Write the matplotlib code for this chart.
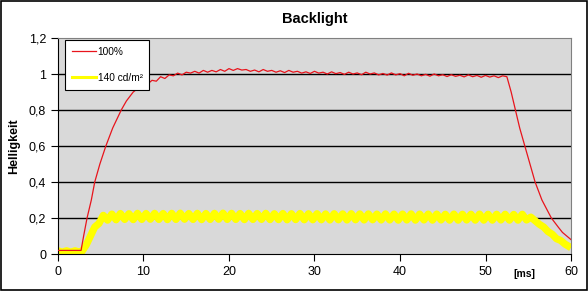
import matplotlib.pyplot as plt
from matplotlib.lines import Line2D
from matplotlib.patches import Rectangle

plt.rcParams['font.family'] = ['Liberation Sans', 'DejaVu Sans']

# 100% Kurve (rot)
red_t = [0, 1, 2, 2.7, 3.0, 3.4, 3.9, 4.3, 4.9, 5.6, 6.4, 7.4, 8.0, 8.8, 9.5,
         10, 10.5, 11, 11.5, 12, 12.5, 13, 13.5, 14, 14.5, 15, 15.5, 16, 16.5,
         17, 17.5, 18, 18.5, 19, 19.5, 20, 20.5, 21, 21.5, 22, 22.5, 23, 23.5,
         24, 24.5, 25, 25.5, 26, 26.5, 27, 27.5, 28, 28.5, 29, 29.5, 30, 30.5,
         31, 31.5, 32, 32.5, 33, 33.5, 34, 34.5, 35, 35.5, 36, 36.5, 37, 37.5,
         38, 38.5, 39, 39.5, 40, 40.5, 41, 41.5, 42, 42.5, 43, 43.5, 44, 44.5,
         45, 45.5, 46, 46.5, 47, 47.5, 48, 48.5, 49, 49.5, 50, 50.5, 51, 51.5,
         52, 52.5,
         53, 53.5, 54, 54.6, 55.2, 55.8, 56.6, 57.7, 58.5, 59, 59.5, 60]
red_v = [0.02, 0.02, 0.02, 0.02, 0.10, 0.20, 0.30, 0.40, 0.50, 0.60, 0.70, 0.80, 0.85, 0.90, 0.925,
         0.94, 0.945, 0.965, 0.96, 0.985, 0.975, 0.995, 0.99, 1.005, 0.995, 1.01, 1.005, 1.015, 1.005,
         1.02, 1.01, 1.02, 1.012, 1.025, 1.015, 1.03, 1.02, 1.03, 1.022, 1.025, 1.015, 1.022, 1.012,
         1.025, 1.015, 1.02, 1.01, 1.018, 1.008, 1.02, 1.01, 1.015, 1.005, 1.012, 1.003, 1.015, 1.005,
         1.01, 1.0, 1.012, 1.002, 1.008, 0.998, 1.01, 1.0, 1.006, 0.996, 1.01, 1.0, 1.006, 0.995,
         1.003, 0.994, 1.006, 0.995, 1.002, 0.99, 1.004, 0.993, 1.0, 0.99, 0.998, 0.988, 1.0, 0.99,
         0.996, 0.986, 0.996, 0.987, 0.993, 0.984, 0.995, 0.985, 0.992, 0.982, 0.992, 0.983, 0.99, 0.98,
         0.99, 0.985,
         0.90, 0.80, 0.70, 0.60, 0.50, 0.40, 0.30, 0.20, 0.15, 0.12, 0.10, 0.08]

# 140 cd/m² Kurve (gelb)
yel_t = [0, 0.5, 1.0, 1.5, 2.0, 2.5, 2.8, 3.3, 3.8, 4.3, 4.8,
         5.3, 5.8, 6.3, 6.8, 7.3, 7.8, 8.3, 8.8, 9.3, 9.8,
         10.3, 10.8, 11.3, 11.8, 12.3, 12.8, 13.3, 13.8, 14.3, 14.8,
         15.3, 15.8, 16.3, 16.8, 17.3, 17.8, 18.3, 18.8, 19.3, 19.8,
         20.3, 20.8, 21.3, 21.8, 22.3, 22.8, 23.3, 23.8, 24.3, 24.8,
         25.3, 25.8, 26.3, 26.8, 27.3, 27.8, 28.3, 28.8, 29.3, 29.8,
         30.3, 30.8, 31.3, 31.8, 32.3, 32.8, 33.3, 33.8, 34.3, 34.8,
         35.3, 35.8, 36.3, 36.8, 37.3, 37.8, 38.3, 38.8, 39.3, 39.8,
         40.3, 40.8, 41.3, 41.8, 42.3, 42.8, 43.3, 43.8, 44.3, 44.8,
         45.3, 45.8, 46.3, 46.8, 47.3, 47.8, 48.3, 48.8, 49.3, 49.8,
         50.3, 50.8, 51.3, 51.8, 52.3, 52.8, 53.3, 53.8, 54.3, 54.8,
         55.3, 55.8, 56.3, 56.8, 57.3, 57.8, 58.3, 58.8, 59.3, 60]
yel_v = [0.018, 0.01, 0.018, 0.01, 0.018, 0.01, 0.014, 0.05, 0.10, 0.15, 0.17,
         0.215, 0.188, 0.222, 0.19, 0.225, 0.192, 0.224, 0.191, 0.226, 0.192,
         0.225, 0.193, 0.226, 0.192, 0.225, 0.191, 0.226, 0.192, 0.227, 0.193,
         0.225, 0.192, 0.226, 0.191, 0.225, 0.192, 0.226, 0.193, 0.227, 0.192,
         0.226, 0.192, 0.225, 0.191, 0.226, 0.192, 0.225, 0.192, 0.226, 0.191,
         0.224, 0.191, 0.225, 0.19, 0.224, 0.191, 0.225, 0.19, 0.224, 0.19,
         0.224, 0.19, 0.223, 0.189, 0.224, 0.19, 0.223, 0.189, 0.224, 0.19,
         0.223, 0.189, 0.223, 0.19, 0.222, 0.189, 0.223, 0.189, 0.222, 0.188,
         0.222, 0.189, 0.223, 0.188, 0.222, 0.189, 0.222, 0.188, 0.222, 0.189,
         0.221, 0.188, 0.222, 0.188, 0.221, 0.189, 0.221, 0.188, 0.222, 0.188,
         0.221, 0.188, 0.221, 0.189, 0.221, 0.188, 0.22, 0.188, 0.221, 0.189,
         0.205, 0.185, 0.165, 0.15, 0.125, 0.11, 0.085, 0.075, 0.055, 0.035]

y_ticks = [0, 0.2, 0.4, 0.6, 0.8, 1.0, 1.2]
y_labels = ['0', '0,2', '0,4', '0,6', '0,8', '1', '1,2']
x_ticks = [0, 10, 20, 30, 40, 50, 60]

fig = plt.figure(figsize=(5.88, 2.91), dpi=100)
fig.patches.append(Rectangle((0.001, 0.002), 0.997, 0.995, transform=fig.transFigure,
                             fill=False, edgecolor='black', linewidth=1.2))
ax = fig.add_axes([0.0986, 0.1271, 0.8725, 0.7423])
ax.set_facecolor('#D9D9D9')

for v in y_ticks[1:-1]:
    ax.axhline(v, color='black', linewidth=1.0, zorder=1)

ax.plot(yel_t, yel_v, color='#FFFF00', linewidth=5.2, zorder=2,
        solid_joinstyle='round', solid_capstyle='butt')
ax.plot(red_t, red_v, color='#E8141C', linewidth=0.9, zorder=3)

ax.set_xlim(0, 60)
ax.set_ylim(0, 1.2)
ax.set_xticks(x_ticks)
ax.set_yticks(y_ticks)
ax.set_yticklabels(y_labels)
ax.tick_params(labelsize=9, length=5, width=0.8, color='black')

for s in ['top', 'right']:
    ax.spines[s].set_color('#808080')
for s in ['left', 'bottom']:
    ax.spines[s].set_color('black')

ax.set_title('Backlight', fontsize=10.5, fontweight='bold', pad=11)
ax.set_ylabel('Helligkeit', fontsize=9, fontweight='bold', labelpad=6)
ax.text(54.5, -0.085, '[ms]', fontsize=7.5, fontweight='bold', ha='center', va='top')

handles = [Line2D([], [], color='#E8141C', linewidth=0.9),
           Line2D([], [], color='#FFFF00', linewidth=2.2)]
leg = ax.legend(handles, ['100%', '140 cd/m²'], loc='upper left', bbox_to_anchor=(0.014, 0.99),
                fontsize=7.3, frameon=True, fancybox=False, edgecolor='black',
                framealpha=1, handlelength=2.4, labelspacing=1.6, borderpad=0.65,
                handletextpad=0.15, borderaxespad=0)
leg.get_frame().set_linewidth(0.8)

plt.savefig('out.png', dpi=100)
